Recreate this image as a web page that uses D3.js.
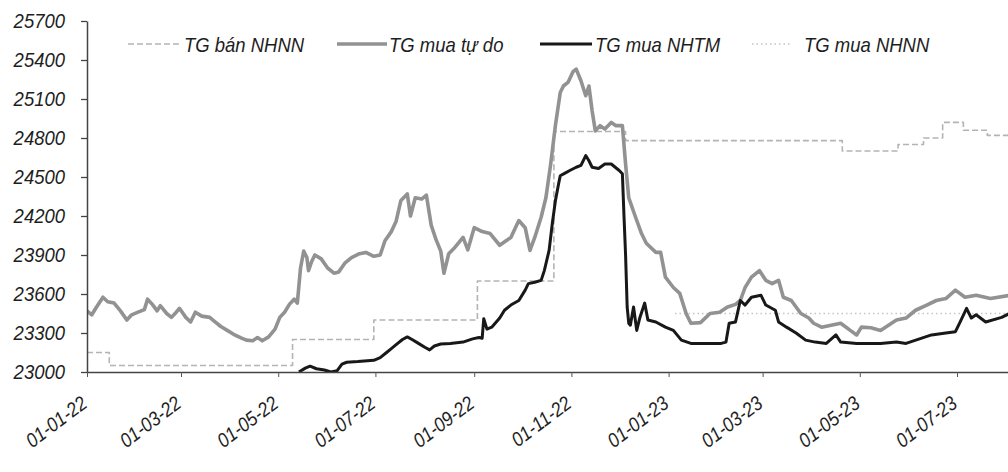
<!DOCTYPE html>
<html><head><meta charset="utf-8">
<script src="https://cdn.jsdelivr.net/npm/d3@7"></script>
<style>
html,body{margin:0;padding:0;background:#fff;}
svg text{font-family:"Liberation Sans Narrow","Arial Narrow","Liberation Sans",sans-serif;font-style:italic;fill:#1e1e1e;}
</style></head><body>
<svg id="chart" width="1008" height="472"></svg>
<script>
const seriesNames = ["TG bán NHNN", "TG mua tự do", "TG mua NHTM", "TG mua NHNN"];
const yTickValues = [23000, 23300, 23600, 23900, 24200, 24500, 24800, 25100, 25400, 25700];
const xTickDates = ["2022-01-01","2022-03-01","2022-05-01","2022-07-01","2022-09-01","2022-11-01","2023-01-01","2023-03-01","2023-05-01","2023-07-01"];
const xDomain = ["2022-01-01", "2023-08-02"];

const banNHNN = [
 ["2022-01-01",23150],["2022-01-15",23050],["2022-05-10",23250],["2022-06-30",23400],
 ["2022-09-03",23700],["2022-10-21",24850],["2022-12-05",24780],["2023-04-20",24700],
 ["2023-05-25",24750],["2023-06-10",24800],["2023-06-22",24920],["2023-07-05",24860],
 ["2023-07-20",24820],["2023-08-03",24820]
];
const muaNHNN = [["2023-01-05",23450],["2023-08-03",23450]];

const muaTuDo = [
 ["2022-01-01",23470],["2022-01-04",23440],["2022-01-07",23500],["2022-01-11",23575],["2022-01-14",23540],
 ["2022-01-18",23530],["2022-01-22",23470],["2022-01-26",23400],["2022-01-29",23440],["2022-02-02",23460],
 ["2022-02-06",23480],["2022-02-08",23560],["2022-02-11",23520],["2022-02-14",23470],["2022-02-16",23510],
 ["2022-02-20",23450],["2022-02-23",23420],["2022-02-26",23460],["2022-02-28",23490],["2022-03-04",23420],
 ["2022-03-07",23385],["2022-03-10",23460],["2022-03-14",23430],["2022-03-19",23420],["2022-03-22",23390],
 ["2022-03-26",23350],["2022-03-30",23320],["2022-04-03",23290],["2022-04-08",23260],["2022-04-11",23245],
 ["2022-04-15",23240],["2022-04-18",23265],["2022-04-21",23240],["2022-04-25",23270],["2022-04-29",23330],
 ["2022-05-02",23420],["2022-05-05",23460],["2022-05-08",23520],["2022-05-11",23560],["2022-05-13",23530],
 ["2022-05-15",23800],["2022-05-17",23930],["2022-05-19",23880],["2022-05-20",23780],["2022-05-22",23850],
 ["2022-05-24",23900],["2022-05-28",23870],["2022-06-01",23800],["2022-06-05",23760],["2022-06-08",23770],
 ["2022-06-12",23840],["2022-06-16",23880],["2022-06-21",23910],["2022-06-25",23920],["2022-06-30",23890],
 ["2022-07-04",23900],["2022-07-07",24010],["2022-07-11",24080],["2022-07-14",24160],["2022-07-17",24320],
 ["2022-07-21",24370],["2022-07-23",24200],["2022-07-26",24340],["2022-07-30",24330],["2022-08-02",24360],
 ["2022-08-05",24130],["2022-08-08",24020],["2022-08-11",23930],["2022-08-13",23760],["2022-08-16",23910],
 ["2022-08-20",23960],["2022-08-25",24035],["2022-08-28",23940],["2022-09-01",24110],["2022-09-06",24080],
 ["2022-09-11",24065],["2022-09-17",23975],["2022-09-21",24010],["2022-09-24",24035],["2022-09-29",24165],
 ["2022-10-03",24110],["2022-10-06",23935],["2022-10-09",24035],["2022-10-13",24190],["2022-10-16",24340],
 ["2022-10-19",24600],["2022-10-22",24900],["2022-10-25",25150],["2022-10-27",25200],["2022-10-30",25230],
 ["2022-11-02",25310],["2022-11-04",25330],["2022-11-07",25240],["2022-11-10",25125],["2022-11-12",25200],
 ["2022-11-14",25010],["2022-11-16",24855],["2022-11-19",24895],["2022-11-22",24870],["2022-11-26",24920],
 ["2022-11-29",24895],["2022-12-03",24895],["2022-12-05",24600],["2022-12-07",24340],["2022-12-11",24200],
 ["2022-12-15",24065],["2022-12-18",23990],["2022-12-24",23920],["2022-12-27",23920],["2022-12-30",23730],
 ["2023-01-04",23650],["2023-01-08",23605],["2023-01-12",23450],["2023-01-15",23375],["2023-01-21",23380],
 ["2023-01-27",23450],["2023-02-02",23460],["2023-02-07",23500],["2023-02-12",23520],["2023-02-15",23550],
 ["2023-02-18",23650],["2023-02-22",23730],["2023-02-27",23780],["2023-03-03",23705],["2023-03-07",23680],
 ["2023-03-11",23705],["2023-03-14",23575],["2023-03-19",23550],["2023-03-22",23500],["2023-03-25",23450],
 ["2023-03-30",23415],["2023-04-02",23375],["2023-04-07",23345],["2023-04-13",23360],["2023-04-19",23375],
 ["2023-04-25",23320],["2023-04-29",23285],["2023-05-02",23345],["2023-05-08",23340],["2023-05-14",23320],
 ["2023-05-24",23400],["2023-05-30",23415],["2023-06-05",23475],["2023-06-12",23515],["2023-06-18",23550],
 ["2023-06-24",23565],["2023-06-30",23630],["2023-07-06",23575],["2023-07-13",23590],["2023-07-22",23565],
 ["2023-08-03",23590]
];

const muaNHTM = [
 ["2022-05-14",23000],["2022-05-18",23030],["2022-05-21",23045],["2022-05-25",23025],["2022-05-30",23015],
 ["2022-06-03",23000],["2022-06-07",23010],["2022-06-10",23060],["2022-06-13",23075],["2022-06-20",23080],
 ["2022-06-30",23090],["2022-07-04",23110],["2022-07-08",23150],["2022-07-11",23180],["2022-07-14",23210],
 ["2022-07-18",23250],["2022-07-21",23270],["2022-07-24",23250],["2022-07-28",23220],["2022-08-01",23190],
 ["2022-08-04",23170],["2022-08-07",23200],["2022-08-11",23215],["2022-08-17",23220],["2022-08-25",23230],
 ["2022-08-31",23255],["2022-09-04",23265],["2022-09-06",23260],["2022-09-07",23410],["2022-09-09",23330],
 ["2022-09-12",23345],["2022-09-17",23415],["2022-09-20",23475],["2022-09-24",23515],["2022-09-29",23550],
 ["2022-10-03",23630],["2022-10-05",23680],["2022-10-09",23690],["2022-10-13",23705],["2022-10-15",23780],
 ["2022-10-18",23935],["2022-10-20",24140],["2022-10-22",24320],["2022-10-24",24450],["2022-10-25",24510],
 ["2022-10-28",24530],["2022-10-31",24550],["2022-11-04",24575],["2022-11-07",24590],["2022-11-10",24665],
 ["2022-11-12",24625],["2022-11-14",24575],["2022-11-18",24565],["2022-11-22",24600],["2022-11-26",24600],
 ["2022-12-01",24550],["2022-12-03",24525],["2022-12-04",24200],["2022-12-05",23900],["2022-12-06",23500],
 ["2022-12-07",23375],["2022-12-08",23360],["2022-12-10",23500],["2022-12-12",23320],["2022-12-14",23420],
 ["2022-12-17",23530],["2022-12-19",23400],["2022-12-24",23385],["2022-12-30",23345],["2023-01-04",23320],
 ["2023-01-09",23245],["2023-01-15",23220],["2023-02-03",23220],["2023-02-06",23230],["2023-02-08",23375],
 ["2023-02-12",23385],["2023-02-15",23550],["2023-02-18",23515],["2023-02-22",23575],["2023-02-28",23590],
 ["2023-03-03",23515],["2023-03-09",23475],["2023-03-11",23385],["2023-03-16",23345],["2023-03-22",23300],
 ["2023-03-28",23245],["2023-04-03",23230],["2023-04-10",23220],["2023-04-16",23285],["2023-04-19",23230],
 ["2023-04-29",23220],["2023-05-14",23220],["2023-05-24",23230],["2023-05-30",23220],["2023-06-15",23285],
 ["2023-06-24",23300],["2023-06-30",23310],["2023-07-03",23385],["2023-07-07",23490],["2023-07-10",23415],
 ["2023-07-13",23440],["2023-07-19",23385],["2023-07-29",23420],["2023-08-03",23450]
];

const parse = d3.timeParse("%Y-%m-%d");
const svg = d3.select("#chart");
const W = 1008, H = 472;
const plot = {left: 87, right: 1008, top: 21, bottom: 372};
const condenseFactor = 0.88;

function condense(sel) {
  sel.each(function() {
    const L = this.getComputedTextLength();
    d3.select(this).attr("textLength", L * condenseFactor).attr("lengthAdjust", "spacingAndGlyphs");
  });
}

const x = d3.scaleTime().domain(xDomain.map(parse)).range([plot.left, plot.right]);
const y = d3.scaleLinear().domain([23000, 25700]).range([plot.bottom, plot.top]);

svg.append("rect").attr("width", W).attr("height", H).attr("fill", "#fff");

svg.append("defs").append("clipPath").attr("id", "clip")
  .append("rect").attr("x", plot.left).attr("y", plot.top - 5)
  .attr("width", plot.right - plot.left).attr("height", plot.bottom - plot.top + 5);

const styles = {
  "TG bán NHNN": {stroke: "#b4b4b4", width: 1.6, dash: "6,3", curve: d3.curveStepAfter, data: banNHNN},
  "TG mua tự do": {stroke: "#929292", width: 3.6, dash: null, curve: d3.curveLinear, data: muaTuDo},
  "TG mua NHTM": {stroke: "#181818", width: 3, dash: null, curve: d3.curveLinear, data: muaNHTM},
  "TG mua NHNN": {stroke: "#c4c4c4", width: 1.6, dash: "1.5,3", curve: d3.curveStepAfter, data: muaNHNN}
};

const g = svg.append("g").attr("clip-path", "url(#clip)");
const drawOrder = ["TG bán NHNN", "TG mua NHNN", "TG mua tự do", "TG mua NHTM"];
drawOrder.forEach(name => {
  const s = styles[name];
  const line = d3.line().x(d => x(parse(d[0]))).y(d => y(d[1])).curve(s.curve);
  g.append("path").datum(s.data).attr("d", line)
    .attr("fill", "none").attr("stroke", s.stroke).attr("stroke-width", s.width)
    .attr("stroke-dasharray", s.dash).attr("stroke-linejoin", "round");
});

// Axes
const yAxis = d3.axisLeft(y).tickValues(yTickValues).tickSize(6).tickSizeOuter(0).tickPadding(16)
  .tickFormat(d3.format("d"));
const ya = svg.append("g").attr("transform", `translate(${plot.left},0)`).call(yAxis);
ya.select(".domain").attr("stroke", "#444").attr("stroke-width", 1.5);
ya.selectAll(".tick line").attr("stroke", "#444").attr("stroke-width", 1.3);
ya.selectAll(".tick text").attr("font-size", 21).attr("fill", "#1e1e1e").call(condense);

const xAxis = d3.axisBottom(x).tickValues(xTickDates.map(parse)).tickSize(5).tickSizeOuter(0)
  .tickFormat(d3.timeFormat("%d-%m-%y"));
const xa = svg.append("g").attr("transform", `translate(0,${plot.bottom})`).call(xAxis);
xa.select(".domain").attr("stroke", "#444").attr("stroke-width", 1.5);
xa.selectAll(".tick line").attr("stroke", "#555").attr("stroke-width", 1);
xa.selectAll(".tick text").attr("font-size", 20).attr("fill", "#1e1e1e")
  .attr("y", null).attr("dy", null).attr("text-anchor", "end")
  .attr("transform", "translate(1,34) rotate(-37)").call(condense);

// Legend
const legendPos = [
  {name: "TG bán NHNN", x1: 128, x2: 179},
  {name: "TG mua tự do", x1: 337, x2: 387},
  {name: "TG mua NHTM", x1: 540, x2: 592},
  {name: "TG mua NHNN", x1: 752, x2: 792}
];
const textStart = [184, 389, 595, 804];
const lg = svg.append("g");
legendPos.forEach((p, i) => {
  const s = styles[p.name];
  lg.append("line").attr("x1", p.x1).attr("x2", p.x2).attr("y1", 44).attr("y2", 44)
    .attr("stroke", s.stroke).attr("stroke-width", s.width).attr("stroke-dasharray", s.dash);
  lg.append("text").attr("x", textStart[i]).attr("y", 52).attr("font-size", 21)
    .text(seriesNames[seriesNames.indexOf(p.name)]).call(condense);
});
</script>
</body></html>
